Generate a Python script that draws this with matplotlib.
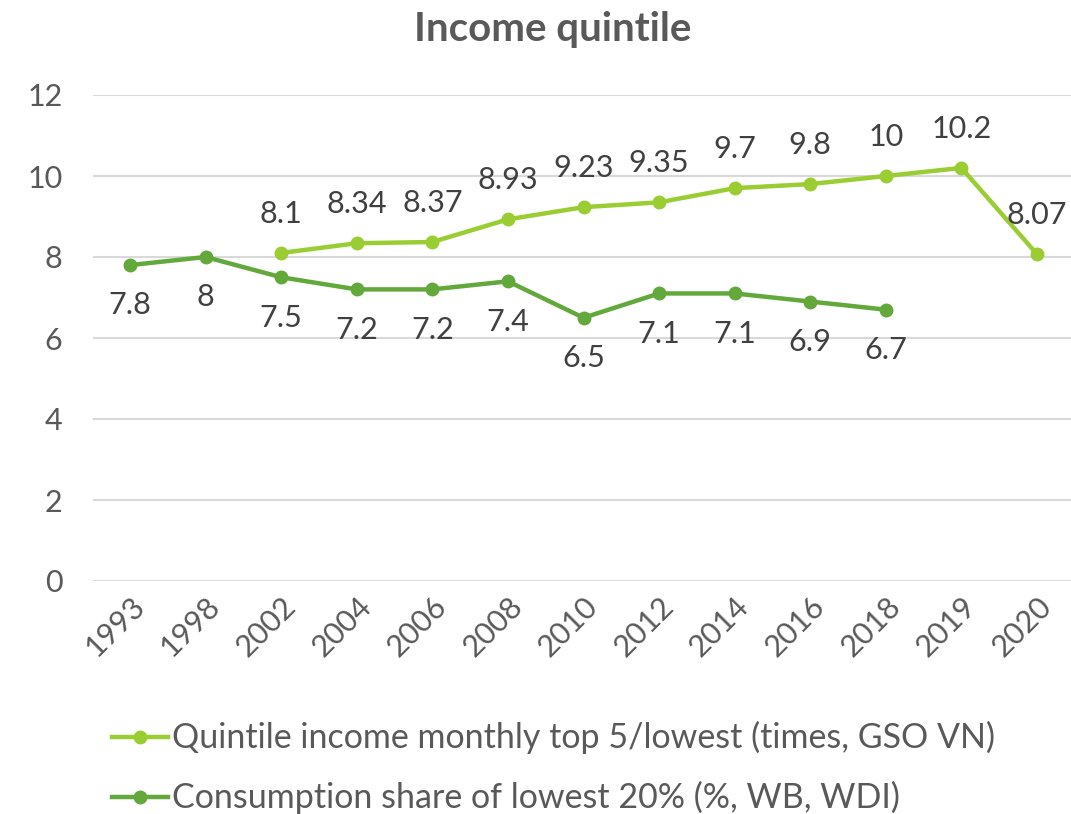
import matplotlib
matplotlib.use("Agg")
import matplotlib.pyplot as plt
from matplotlib.lines import Line2D
import numpy as np

years = ["1993", "1998", "2002", "2004", "2006", "2008", "2010", "2012",
         "2014", "2016", "2018", "2019", "2020"]
quintile = [None, None, 8.1, 8.34, 8.37, 8.93, 9.23, 9.35, 9.7, 9.8, 10, 10.2, 8.07]
quintile_labels = ["", "", "8.1", "8.34", "8.37", "8.93", "9.23", "9.35", "9.7", "9.8", "10", "10.2", "8.07"]
consumption = [7.8, 8, 7.5, 7.2, 7.2, 7.4, 6.5, 7.1, 7.1, 6.9, 6.7, None, None]
consumption_labels = ["7.8", "8", "7.5", "7.2", "7.2", "7.4", "6.5", "7.1", "7.1", "6.9", "6.7", "", ""]
yticks = [0, 2, 4, 6, 8, 10, 12]

name_q = "Quintile income monthly top 5/lowest (times, GSO VN)"
name_c = "Consumption share of lowest 20% (%, WB, WDI)"
title = "Income quintile"

plt.rcParams['font.family'] = ['Lato', 'DejaVu Sans']
TXT = "#595959"
LIGHT = "#9ACD32"
DARK = "#62A83A"

W, H = 1071, 814
fig = plt.figure(figsize=(W / 100, H / 100), dpi=100)
ax = fig.add_axes([93 / W, 1 - 581 / H, (W - 93) / W, (581 - 95) / H])

x = np.arange(len(years))
qy = np.array([np.nan if v is None else v for v in quintile], dtype=float)
cy = np.array([np.nan if v is None else v for v in consumption], dtype=float)

ax.plot(x, qy, color=LIGHT, lw=3.2, marker='o', ms=9, zorder=3, label=name_q)
ax.plot(x, cy, color=DARK, lw=3.2, marker='o', ms=9, zorder=3, label=name_c)

for i, (v, lab) in enumerate(zip(qy, quintile_labels)):
    if not np.isnan(v) and lab:
        ax.annotate(lab, (i, v), xytext=(0, 28), textcoords='offset points',
                    ha='center', va='center', fontsize=22, color="#404040", zorder=4)
for i, (v, lab) in enumerate(zip(cy, consumption_labels)):
    if not np.isnan(v) and lab:
        ax.annotate(lab, (i, v), xytext=(0, -29), textcoords='offset points',
                    ha='center', va='center', fontsize=22, color="#404040", zorder=4)

ax.set_ylim(0, 12)
ax.set_yticks(yticks)
ax.set_xlim(-0.49, 12.45)
ax.set_xticks(x)
ax.set_xticklabels(years, rotation=45, ha='right', va='top', rotation_mode='anchor')
ax.tick_params(axis='both', length=0, labelsize=22, colors=TXT)
ax.tick_params(axis='y', pad=22)
ax.tick_params(axis='x', pad=8)
ax.grid(axis='y', color="#D9D9D9", lw=1.5)
ax.set_axisbelow(True)
for s in ax.spines.values():
    s.set_visible(False)

fig.text(553 / W, 1 - 30 / H, title, ha='center', va='center', fontsize=29,
         fontweight='bold', color=TXT)

# legend drawn manually in figure coordinates
for row_y, col, name in [(737, LIGHT, name_q), (797, DARK, name_c)]:
    yf = 1 - row_y / H
    fig.add_artist(Line2D([112 / W, 168 / W], [yf, yf], color=col, lw=3.2,
                          transform=fig.transFigure))
    fig.add_artist(Line2D([140 / W], [yf], color=col, marker='o', ms=9,
                          transform=fig.transFigure))
    fig.text(172 / W, yf, name, ha='left', va='center', fontsize=24.5, color=TXT)

fig.savefig("out.png", dpi=100)
